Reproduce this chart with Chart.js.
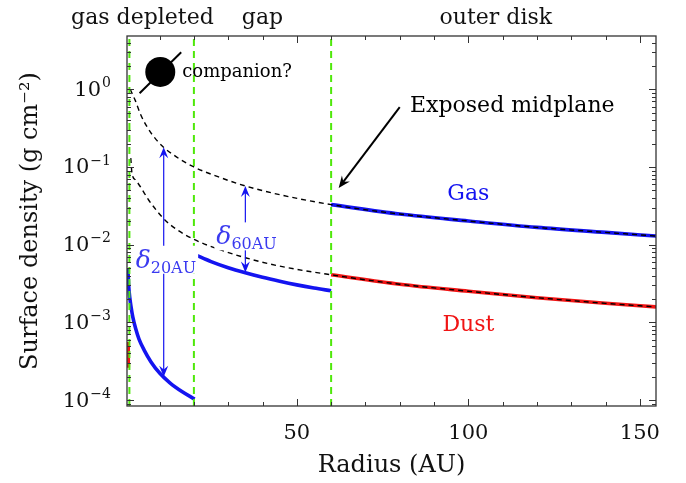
<!DOCTYPE html>
<html>
<head>
<meta charset="utf-8">
<script src="https://cdn.jsdelivr.net/npm/chart.js@4.4.1/dist/chart.umd.min.js"></script>
<style>
  html, body { margin: 0; padding: 0; background: #fff; }
</style>
</head>
<body>
<canvas id="chart" width="686" height="483"></canvas>
<script>
/* --- data --- */
const xMin = 0.5, xMax = 154.7;
const yMin = 8.4e-5, yMax = 4.85;
const xTickValues = [50, 100, 150];
const yTickValues = [1e-4, 1e-3, 1e-2, 1e-1, 1];
const yTickExponents = ['\u22124', '\u22123', '\u22122', '\u22121', '0'];

// unperturbed gas profile (black dashed, upper)
const gasModelR = [1.45, 2, 2.9, 4.5, 6.7, 9, 11, 15, 20, 27, 35, 45, 60, 80, 100, 120, 140, 155];
const gasModelS = [1.0, 0.88, 0.72, 0.47, 0.31, 0.225, 0.182, 0.134, 0.1, 0.075, 0.057, 0.044, 0.0328, 0.0248, 0.0202, 0.0167, 0.0144, 0.0129];
// unperturbed dust profile (black dashed, lower)
const dustModelR = [1.6, 1.95, 3, 4.4, 6.8, 9, 11.7, 15, 20, 27, 35, 45, 60, 80, 100, 120, 140, 155];
const dustModelS = [0.13, 0.083, 0.068, 0.0557, 0.0376, 0.028, 0.0205, 0.0157, 0.0117, 0.0088, 0.0068, 0.0053, 0.0041, 0.0031, 0.00252, 0.00208, 0.00176, 0.00158];

// gas (blue) in the three zones
const gasInnerR = [0.75, 1, 1.3, 1.7, 2.2, 3, 4, 5.5, 7.5, 10, 13, 16.5, 20.2];
const gasInnerS = [0.005, 0.0029, 0.0021, 0.00157, 0.00117, 0.00084, 0.00061, 0.00044, 0.00031, 0.000223, 0.000167, 0.000129, 0.000103];
const gasGapR = [20.5, 25, 30, 35, 40, 45, 50, 55, 60];
const gasGapS = [0.0074, 0.00607, 0.00506, 0.00435, 0.0038, 0.00338, 0.00304, 0.00277, 0.00255];
const gasOuterR = [60, 80, 100, 120, 140, 155];
const gasOuterS = [0.0328, 0.0248, 0.0202, 0.0167, 0.0144, 0.0129];

// dust (red)
const dustInnerR = [0.85, 0.88];
const dustInnerS = [0.00056, 0.00026];
const dustOuterR = [60, 80, 100, 120, 140, 155];
const dustOuterS = [0.0041, 0.0031, 0.00252, 0.00208, 0.00176, 0.00158];

// zone boundaries (green dashed)
const boundaryR = [1.2, 20, 60];

const zoneLabels = ['gas depleted', 'gap', 'outer disk'];
const zoneLabelR = [5, 40, 108];

const SERIF = "'DejaVu Serif', serif";
const BLUE = '#1414f0';
const RED = '#f01414';
const GREEN = '#4fe80a';

const pts = (rs, ss) => rs.map((r, i) => ({ x: r, y: ss[i] }));

const solid = (label, rs, ss, color) => ({
    label, data: pts(rs, ss), borderColor: color, borderWidth: 3.6,
    pointRadius: 0, cubicInterpolationMode: 'monotone', order: 3
});
const dashed = (label, rs, ss) => ({
    label, data: pts(rs, ss), borderColor: '#000', borderWidth: 1.4,
    borderDash: [5, 4], pointRadius: 0, cubicInterpolationMode: 'monotone', order: 2
});

const datasets = [
    solid('Gas inner', gasInnerR, gasInnerS, BLUE),
    solid('Gas gap', gasGapR, gasGapS, BLUE),
    solid('Gas outer', gasOuterR, gasOuterS, BLUE),
    solid('Dust inner', dustInnerR, dustInnerS, RED),
    solid('Dust outer', dustOuterR, dustOuterS, RED),
    dashed('Gas model', gasModelR, gasModelS),
    dashed('Dust model', dustModelR, dustModelS),
    ...boundaryR.map(r => ({
        label: 'boundary ' + r,
        data: [{ x: r, y: yMin }, { x: r, y: yMax }],
        borderColor: GREEN, borderWidth: 2, borderDash: [7, 5],
        pointRadius: 0, order: 1
    }))
];

/* --- annotations (data coordinates) --- */
function arrowHead(ctx, x1, y1, x2, y2, L, W) {
    const ang = Math.atan2(y2 - y1, x2 - x1);
    ctx.save();
    ctx.translate(x2, y2);
    ctx.rotate(ang);
    ctx.beginPath();
    ctx.moveTo(0, 0);
    ctx.lineTo(-L, -W);
    ctx.lineTo(-L * 0.65, 0);
    ctx.lineTo(-L, W);
    ctx.closePath();
    ctx.fill();
    ctx.restore();
}

function deltaLabel(ctx, x, yc, sub) {
    ctx.font = "italic 25px " + SERIF;
    const w1 = ctx.measureText('\u03B4').width;
    ctx.font = "16px " + SERIF;
    const w2 = ctx.measureText(sub).width;
    ctx.fillStyle = '#fff';
    ctx.fillRect(x - 2, yc - 14, w1 + w2 + 4, 28);
    ctx.fillStyle = '#3a3af0';
    ctx.textBaseline = 'alphabetic';
    ctx.textAlign = 'left';
    ctx.font = "italic 25px " + SERIF;
    ctx.fillText('\u03B4', x, yc + 8);
    ctx.font = "16px " + SERIF;
    ctx.fillText(sub, x + w1, yc + 13);
}

const decorPlugin = {
    id: 'decor',
    afterDatasetsDraw(chart) {
        const { ctx, chartArea: a, scales: { x, y } } = chart;
        const X = v => x.getPixelForValue(v);
        const Y = v => y.getPixelForValue(v);
        ctx.save();

        // double arrows for delta
        ctx.strokeStyle = BLUE; ctx.fillStyle = BLUE; ctx.lineWidth = 1.2;
        [[11.2, 0.18, 0.0002], [35, 0.057, 0.0044]].forEach(([r, top, bot]) => {
            const px = X(r), y1 = Y(top), y2 = Y(bot);
            ctx.beginPath(); ctx.moveTo(px, y1 + 6); ctx.lineTo(px, y2 - 6); ctx.stroke();
            arrowHead(ctx, px, y2, px, y1, 11, 4.5);
            arrowHead(ctx, px, y1, px, y2, 11, 4.5);
        });
        deltaLabel(ctx, X(11.2) - 28, Y(0.0064), '20AU');
        deltaLabel(ctx, X(35) - 29, Y(0.0128), '60AU');

        // exposed midplane arrow
        ctx.strokeStyle = '#000'; ctx.fillStyle = '#000'; ctx.lineWidth = 2;
        const ax1 = X(80), ay1 = Y(0.59), ax2 = X(62.2), ay2 = Y(0.0537);
        const d = Math.hypot(ax2 - ax1, ay2 - ay1);
        ctx.beginPath();
        ctx.moveTo(ax1, ay1);
        ctx.lineTo(ax2 - (ax2 - ax1) / d * 7, ay2 - (ay2 - ay1) / d * 7);
        ctx.stroke();
        arrowHead(ctx, ax1, ay1, ax2, ay2, 12, 5);
        ctx.font = "22px " + SERIF;
        ctx.textAlign = 'left'; ctx.textBaseline = 'middle';
        ctx.fillText('Exposed midplane', X(83), Y(0.61));

        // companion
        ctx.lineWidth = 2;
        ctx.beginPath(); ctx.moveTo(X(4.17), Y(0.89)); ctx.lineTo(X(16.3), Y(2.99)); ctx.stroke();
        ctx.beginPath(); ctx.arc(X(10.2), Y(1.67), 15, 0, Math.PI * 2); ctx.fill();
        ctx.font = "18px " + SERIF;
        ctx.fillText('companion?', X(16.6), Y(1.67));

        // series labels
        ctx.font = "22px " + SERIF; ctx.textAlign = 'center';
        ctx.fillStyle = BLUE; ctx.fillText('Gas', X(100), Y(0.045));
        ctx.fillStyle = RED; ctx.fillText('Dust', X(100), Y(0.00093));

        // zone labels above the frame
        ctx.fillStyle = '#111';
        zoneLabels.forEach((t, i) => ctx.fillText(t, X(zoneLabelR[i]), a.top - 18));

        // y tick labels as 10 with a raised exponent
        ctx.textAlign = 'right'; ctx.textBaseline = 'middle';
        yTickValues.forEach((v, i) => {
            const py = Y(v);
            ctx.font = "14px " + SERIF;
            const ew = ctx.measureText(yTickExponents[i]).width;
            ctx.fillText(yTickExponents[i], a.left - 16, py - 6);
            ctx.font = "21px " + SERIF;
            ctx.fillText('10', a.left - 17 - ew, py + 1);
        });

        // frame and inward ticks
        ctx.strokeStyle = '#333'; ctx.lineWidth = 1.3;
        ctx.strokeRect(a.left, a.top, a.right - a.left, a.bottom - a.top);
        ctx.lineWidth = 1;
        ctx.beginPath();
        for (let v = 10; v <= xMax; v += 10) {
            const px = Math.round(X(v)) + 0.5;
            const len = v % 50 === 0 ? 7 : 4;
            ctx.moveTo(px, a.bottom); ctx.lineTo(px, a.bottom - len);
            ctx.moveTo(px, a.top); ctx.lineTo(px, a.top + len);
        }
        for (let e = -5; e <= 0; e++) {
            for (let m = 1; m <= 9; m++) {
                const v = m * Math.pow(10, e);
                if (v < yMin || v > yMax) continue;
                const py = Math.round(Y(v)) + 0.5;
                const len = m === 1 ? 7 : 4;
                ctx.moveTo(a.left, py); ctx.lineTo(a.left + len, py);
                ctx.moveTo(a.right, py); ctx.lineTo(a.right - len, py);
            }
        }
        ctx.stroke();
        ctx.restore();
    }
};

new Chart(document.getElementById('chart'), {
    type: 'line',
    data: { datasets },
    plugins: [decorPlugin],
    options: {
        responsive: false,
        animation: false,
        layout: { padding: { left: 0, right: 30, top: 36, bottom: 0 } },
        plugins: { legend: { display: false }, tooltip: { enabled: false } },
        scales: {
            x: {
                type: 'linear', min: xMin, max: xMax,
                grid: { display: false, drawTicks: false },
                border: { display: false },
                afterBuildTicks: s => { s.ticks = xTickValues.map(v => ({ value: v })); },
                afterFit: s => { s.height = 77; },
                ticks: { color: '#111', padding: 15, font: { family: SERIF, size: 21 }, callback: v => String(v) },
                title: { display: true, text: 'Radius (AU)', color: '#111', font: { family: SERIF, size: 24 }, padding: { top: 0, bottom: 3 } }
            },
            y: {
                type: 'logarithmic', min: yMin, max: yMax,
                grid: { display: false, drawTicks: false },
                border: { display: false },
                afterBuildTicks: s => { s.ticks = yTickValues.map(v => ({ value: v })); },
                afterFit: s => { s.width = 127; },
                ticks: { display: false },
                title: { display: true, text: 'Surface density (g cm\u207B\u00B2)', color: '#111', font: { family: SERIF, size: 24 }, padding: { top: 16, bottom: 0 } }
            }
        }
    }
});
</script>
</body>
</html>
